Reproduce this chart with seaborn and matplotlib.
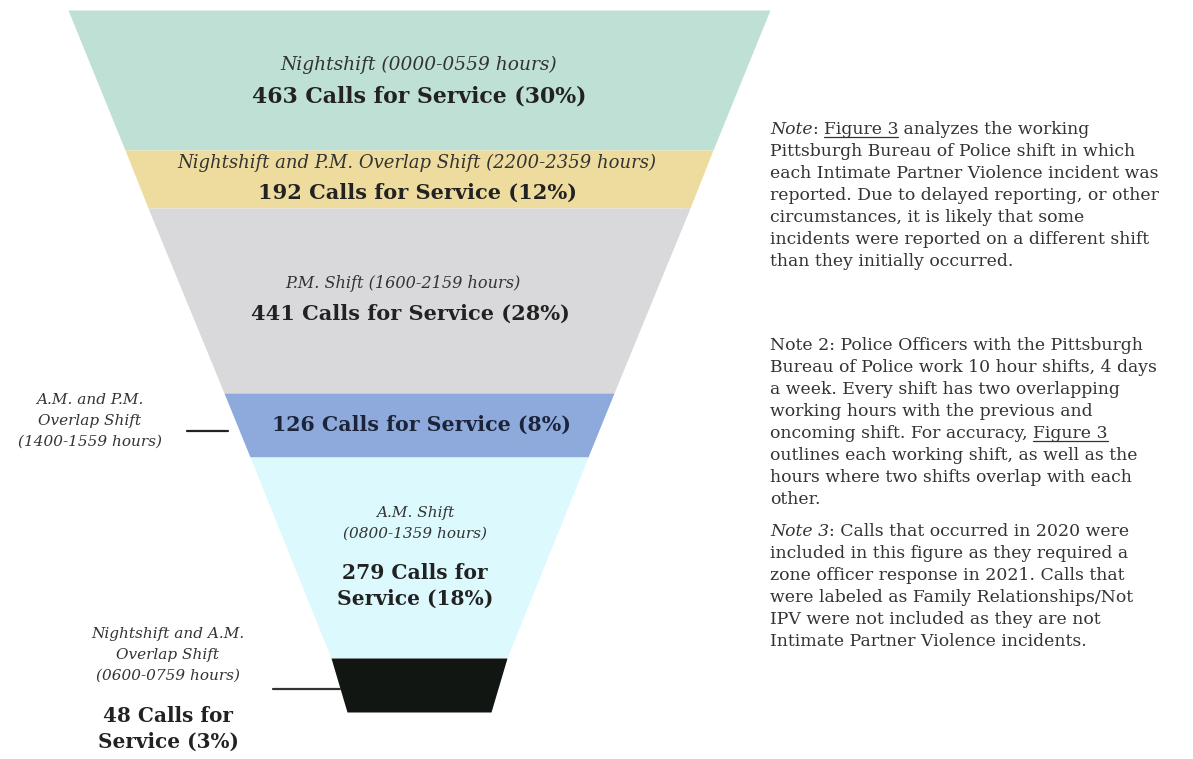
import matplotlib
matplotlib.use("Agg")
import matplotlib.pyplot as plt
import seaborn as sns

# ---------------- data ----------------
shift_names = ["Nightshift", "Nightshift and P.M. Overlap Shift", "P.M. Shift",
               "A.M. and P.M. Overlap Shift", "A.M. Shift", "Nightshift and A.M. Overlap Shift"]
shift_hours = ["0000-0559", "2200-2359", "1600-2159", "1400-1559", "0800-1359", "0600-0759"]
calls = [463, 192, 441, 126, 279, 48]
percents = [30, 12, 28, 8, 18, 3]

note1 = [
    [("Note", "i"), (": ", ""), ("Figure 3", "u"), (" analyzes the working", "")],
    [("Pittsburgh Bureau of Police shift in which", "")],
    [("each Intimate Partner Violence incident was", "")],
    [("reported. Due to delayed reporting, or other", "")],
    [("circumstances, it is likely that some", "")],
    [("incidents were reported on a different shift", "")],
    [("than they initially occurred.", "")],
]
note2 = [
    [("Note 2: Police Officers with the Pittsburgh", "")],
    [("Bureau of Police work 10 hour shifts, 4 days", "")],
    [("a week. Every shift has two overlapping", "")],
    [("working hours with the previous and", "")],
    [("oncoming shift. For accuracy, ", ""), ("Figure 3", "u")],
    [("outlines each working shift, as well as the", "")],
    [("hours where two shifts overlap with each", "")],
    [("other.", "")],
]
note3 = [
    [("Note 3", "i"), (": Calls that occurred in 2020 were", "")],
    [("included in this figure as they required a", "")],
    [("zone officer response in 2021. Calls that", "")],
    [("were labeled as Family Relationships/Not", "")],
    [("IPV were not included as they are not", "")],
    [("Intimate Partner Violence incidents.", "")],
]

# ---------------- layout / style ----------------
band_colors = ["#bfe0d4", "#eedc9f", "#d9d9dc", "#8eaadc", "#dcf9fd", "#121612"]
band_edges_y = [10, 150, 208, 393, 457, 658, 712]
edge_halfwidth = [351, 294, 271, 195, 169, 88, 72]
center_x = 419
SERIF = "DejaVu Serif"
TXT = "#222222"
SUBCOL = "#333333"
NOTE_COL = "#333333"

sns.set_theme(style="white")
plt.rcParams["font.family"] = [SERIF, "DejaVu Sans"]

fig = plt.figure(figsize=(11.93, 7.59), dpi=100)
ax = fig.add_axes([0, 0, 1, 1])
ax.set_xlim(0, 1193)
ax.set_ylim(759, 0)
ax.axis("off")

# funnel bands
for i, col in enumerate(band_colors):
    y0, y1 = band_edges_y[i], band_edges_y[i + 1]
    h0, h1 = edge_halfwidth[i], edge_halfwidth[i + 1]
    ax.fill_betweenx([y0, y1], [center_x - h0, center_x - h1], [center_x + h0, center_x + h1],
                     color=col, lw=0)

def lbl(i):
    return f"{calls[i]} Calls for Service ({percents[i]}%)"

def sub(i):
    return f"{shift_names[i]} ({shift_hours[i]} hours)"

def it(x, y, s, size=11, **kw):
    ax.text(x, y, s, ha="center", va="center", fontsize=size, style="italic",
            color=SUBCOL, linespacing=1.6, **kw)

def bd(x, y, s, size=15, color=TXT, **kw):
    ax.text(x, y, s, ha="center", va="center", fontsize=size, weight="bold",
            color=color, linespacing=1.4, **kw)

# band 0
it(center_x, 65, sub(0), 13.4)
bd(center_x, 96, lbl(0), 15.8)
# band 1
it(center_x - 2, 163, sub(1), 13.0)
bd(center_x - 2, 193, lbl(1), 15.0)
# band 2
it(center_x - 16, 283, sub(2), 11.6)
bd(center_x - 9, 314, lbl(2), 15.0)
# band 3 (inside: value only; outside: name)
bd(center_x + 2, 425, lbl(3), 14.8, color="#1b2438")
it(90, 421, "A.M. and P.M.\nOverlap Shift\n(" + shift_hours[3] + " hours)", 11)
ax.plot([187, 228], [431, 431], color="#222222", lw=1.6)
# band 4
it(center_x - 4, 523, "A.M. Shift\n(" + shift_hours[4] + " hours)", 11)
bd(center_x - 4, 586, f"{calls[4]} Calls for\nService ({percents[4]}%)", 14.6)
# band 5 (outside)
it(168, 655, "Nightshift and A.M.\nOverlap Shift\n(" + shift_hours[5] + " hours)", 11)
ax.plot([273, 340], [689, 689], color="#333333", lw=1.6)
bd(168, 729, f"{calls[5]} Calls for\nService ({percents[5]}%)", 14.4)

# notes
renderer = fig.canvas.get_renderer()
NOTE_SIZE = 12.4
LINE_H = 22

def rich_line(x, y, segments):
    for txt, style in segments:
        kw = dict(fontsize=NOTE_SIZE, color=NOTE_COL, ha="left", va="baseline")
        if "i" in style:
            kw["style"] = "italic"
        t = ax.text(x, y, txt, **kw)
        w = t.get_window_extent(renderer).width
        if "u" in style:
            ax.plot([x, x + w], [y + 2.5, y + 2.5], color=NOTE_COL, lw=0.9)
        x += w

def block(lines, x, y0):
    for k, segs in enumerate(lines):
        rich_line(x, y0 + k * LINE_H, segs)

block(note1, 770, 134)
block(note2, 770, 350)
block(note3, 770, 536)

fig.savefig("out.png", dpi=100)
